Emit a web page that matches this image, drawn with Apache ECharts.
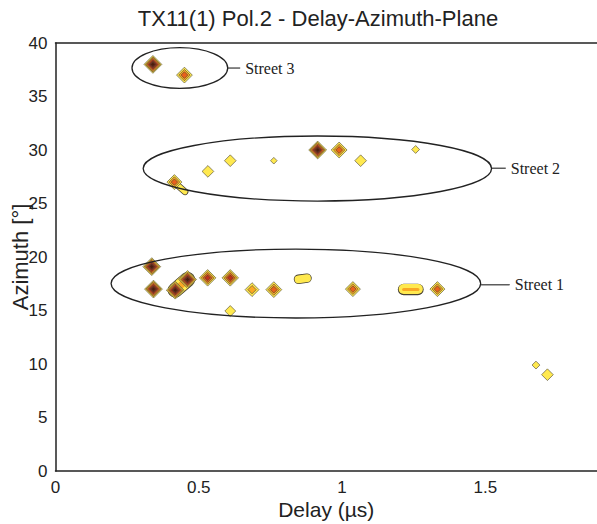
<!DOCTYPE html>
<html><head><meta charset="utf-8">
<script src="https://cdn.jsdelivr.net/npm/echarts@6/dist/echarts.min.js"></script>
<style>html,body{margin:0;padding:0;background:#fff}#c{width:597px;height:524px}</style>
</head><body><div id="c"></div>
<script>
// ---- data ----
const delay   = [0.34, 0.45,  0.915, 0.99, 1.065, 1.257, 0.762, 0.61, 0.532, 0.415,  0.336, 0.342, 0.418, 0.461, 0.531, 0.61, 0.686, 0.762, 0.61, 1.038, 1.333,  1.677, 1.717];
const azimuth = [38.0, 37.0,  30.0,  30.0, 29.0,  30.05, 29.0,  29.0, 28.0,  27.0,   19.1,  17.0,  16.9,  17.9,  18.05, 18.05, 16.95, 16.95, 14.95, 17.0, 17.0,   9.9,  9.0];
const peak    = [6,    3.5,   6,     3.5,  1.8,   1.0,   0.8,   1.8,  1.8,   3,      6,     6,     6,     6,     4,     4,    2.5,   3.5,   1.6,  3,    3,      1.0,  1.8];
// elongated contour ridges (from -> to) with strength
const ridgeFrom = [[0.418, 16.9], [0.422, 26.8], [0.848, 17.92], [1.215, 17.0]];
const ridgeTo   = [[0.461, 17.9], [0.452, 26.1], [0.878, 18.02], [1.265, 17.0]];
const ridgeStrength = [4.5, 1.7, 2.6, 3.3];
// street annotations (data units)
const streetNames  = ['Street 1', 'Street 2', 'Street 3'];
const streetCenter = [[0.839, 17.52], [0.914, 28.27], [0.434, 37.66]];
const streetRadius = [[0.645, 3.22], [0.608, 3.04], [0.167, 1.9]];
const streetLabelAt = [[1.603, 17.4], [1.589, 28.3], [0.662, 37.66]];
const xTicks = [0, 0.5, 1, 1.5];
const yTicks = [0, 5, 10, 15, 20, 25, 30, 35, 40];

// ---- styles ----
const ringColors = ['#ffe94f', '#f9a825', '#e8611c', '#c0301a', '#7a2a14', '#501a0c'];
const ringBorder = '#474032';
const outerSize = p => 18.5 * (1 - Math.exp(-p / 1.8));
const ringCount = p => Math.max(1, Math.floor(p));

const chart = echarts.init(document.getElementById('c'), null, {renderer: 'svg'});
const pts = delay.map((d, i) => [d, azimuth[i], peak[i]]);

const series = [];
const ridgeData = ridgeFrom.map((f, i) => ({coords: [f, ridgeTo[i]], s: ridgeStrength[i]}));
ridgeData.forEach(r => {
  const w = 3 * r.s;
  series.push({type: 'lines', coordinateSystem: 'cartesian2d', z: 2, silent: true,
    data: [{coords: r.coords}], lineStyle: {color: ringBorder, width: w + 1.6, opacity: 1, cap: 'round', join: 'round'}});
  series.push({type: 'lines', coordinateSystem: 'cartesian2d', z: 3, silent: true,
    data: [{coords: r.coords}], lineStyle: {color: ringColors[0], width: w, opacity: 1, cap: 'round'}});
  if (r.s >= 3.3) {
    series.push({type: 'lines', coordinateSystem: 'cartesian2d', z: 4, silent: true,
      data: [{coords: r.coords}], lineStyle: {color: ringColors[1], width: 3 * (r.s - 2.3), opacity: 1, cap: 'round'}});
  }
});
for (let i = 0; i < 6; i++) {
  series.push({
    type: 'scatter', z: 5 + i, silent: true, symbol: 'diamond',
    data: pts.filter(p => ringCount(p[2]) > i),
    symbolSize: v => {
      const o = outerSize(v[2]), n = ringCount(v[2]);
      return Math.max(2, o - (o / (n + 0.5)) * i);
    },
    itemStyle: {color: ringColors[i], borderColor: ringBorder, borderWidth: 0.6, opacity: 1}
  });
}

const txt = '#222';
chart.setOption({
  animation: false,
  backgroundColor: '#fff',
  grid: {left: 55.5, top: 43, right: 0, bottom: 53, containLabel: false, outerBoundsMode: 'none'},
  xAxis: [{
    type: 'value', min: 0, max: 1.89, interval: 0.5,
    axisLine: {show: true, onZero: false, lineStyle: {color: txt, width: 1.5}},
    axisTick: {show: false}, splitLine: {show: false},
    axisLabel: {fontSize: 17, color: txt, margin: 8, fontFamily: 'Liberation Sans',
      formatter: v => xTicks.some(t => Math.abs(t - v) < 1e-6) ? String(v) : ''},
    name: 'Delay (\u00b5s)', nameLocation: 'middle', nameGap: 28, nameMoveOverlap: false,
    nameTextStyle: {fontSize: 21, color: txt, fontFamily: 'Liberation Sans'}
  }, {
    type: 'value', position: 'top', min: 0, max: 1.89,
    axisLine: {show: true, onZero: false, lineStyle: {color: txt, width: 1.5}},
    axisTick: {show: false}, splitLine: {show: false}, axisLabel: {show: false}
  }],
  yAxis: {
    type: 'value', min: 0, max: 40, interval: 5,
    axisLine: {show: true, onZero: false, lineStyle: {color: txt, width: 1.5}},
    axisTick: {show: false}, splitLine: {show: false},
    axisLabel: {fontSize: 17, color: txt, margin: 8, fontFamily: 'Liberation Sans',
      formatter: v => yTicks.includes(v) ? String(v) : ''},
    name: 'Azimuth [\u00b0]', nameLocation: 'middle', nameGap: 24, nameRotate: 90, nameMoveOverlap: false,
    nameTextStyle: {fontSize: 22, color: txt, fontFamily: 'Liberation Sans'}
  },
  series: series
});

const graphics = [{
  type: 'text', x: 318, y: 18, z: 100,
  style: {text: 'TX11(1) Pol.2 - Delay-Azimuth-Plane', fill: txt, font: '22px "Liberation Sans"', textAlign: 'center', textVerticalAlign: 'middle'}
}];
streetNames.forEach((n, i) => {
  const c = chart.convertToPixel({gridIndex: 0}, streetCenter[i]);
  const e = chart.convertToPixel({gridIndex: 0}, [streetCenter[i][0] + streetRadius[i][0], streetCenter[i][1] + streetRadius[i][1]]);
  const rx = e[0] - c[0], ry = c[1] - e[1];
  const l = chart.convertToPixel({gridIndex: 0}, streetLabelAt[i]);
  graphics.push({type: 'ellipse', z: 50, silent: true, shape: {cx: c[0], cy: c[1], rx: rx, ry: ry},
    style: {fill: 'none', stroke: '#222', lineWidth: 1.3}});
  graphics.push({type: 'line', z: 50, silent: true, shape: {x1: c[0] + rx, y1: l[1], x2: l[0] - 5, y2: l[1]},
    style: {stroke: '#222', lineWidth: 1.1}});
  graphics.push({type: 'text', z: 50, x: l[0], y: l[1], silent: true,
    style: {text: n, fill: '#222', font: '16px "Liberation Serif"', textAlign: 'left', textVerticalAlign: 'middle'}});
});
chart.setOption({graphic: graphics});
</script>
</body></html>
